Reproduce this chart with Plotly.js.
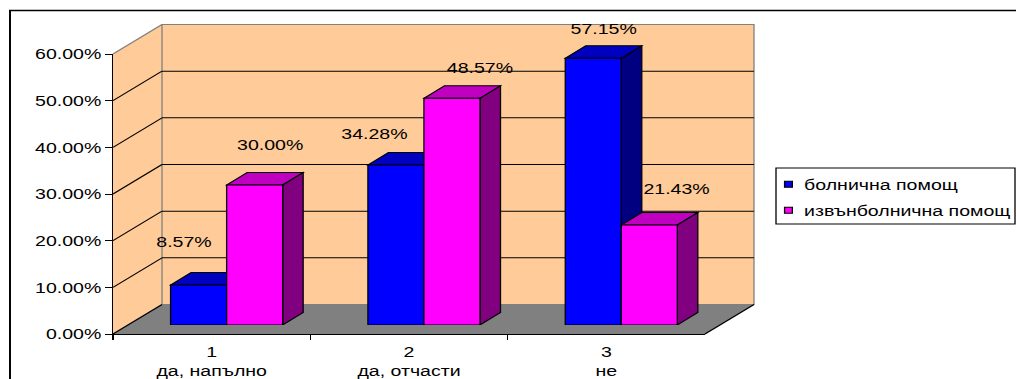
<!DOCTYPE html>
<html>
<head>
<meta charset="utf-8">
<script src="https://cdn.plot.ly/plotly-3.0.1.min.js"></script>
<style>
  html, body { margin: 0; padding: 0; background: #ffffff; overflow: hidden; }
  /* the figure is laid out on a narrower canvas and widened horizontally */
  #chart { width: 780px; height: 379px; transform: scaleX(1.3025641); transform-origin: 0 0; }
  /* legend swatches sit close to their labels */
  #chart g.legendpoints { transform: translate(8px, 0px); }
</style>
</head>
<body>
<div id="chart"></div>
<script>
// ---- data ----
const categories = ['1<br>да, напълно', '2<br>да, отчасти', '3<br>не'];
const seriesNames = ['болнична помощ', 'извънболнична помощ'];
const hospital = [0.0857, 0.3428, 0.5715];
const outpatient = [0.3000, 0.4857, 0.2143];
const yTicks = [0, 0.1, 0.2, 0.3, 0.4, 0.5, 0.6];

// ---- geometry (page pixels of the widened figure) ----
const W = 1016, H = 379, CANVAS_W = 780, SX = W / CANVAS_W;
const front = { left: 113, right: 705, base: 334, top: 54 };
const depth = { dx: 49, dy: 29.5 };          // full depth of the floor / walls
const barInset = 9 / 29.5;                   // where the bar fronts sit in depth
const barDepth = { dx: 20.5, dy: 12.5 };     // thickness of each bar
const yMax = 0.6;
const bargap = 0.432;

const series = [
  { name: seriesNames[0], values: hospital,   front: '#0000FF', top: '#0000C0', side: '#000080' },
  { name: seriesNames[1], values: outpatient, front: '#FF00FF', top: '#C000C0', side: '#800080' }
];
// label placement relative to the top of each bar's front face (px right, px up)
const labelShift = [
  [[-14, 44], [-22, 32], [11, 30]],
  [[15, 41], [28, 31], [27, 36]]
];

const catPx = (front.right - front.left) / categories.length;
const valPx = (front.base - front.top) / yMax;

function proj(c, v, d) {
  return [front.left + (c + 0.5) * catPx + depth.dx * d,
          front.base - v * valPx - depth.dy * d];
}
function toPaper(p) { return (p[0] / W).toFixed(5) + ',' + (1 - p[1] / H).toFixed(5); }
function paperPath(points, closed) { return 'M' + points.map(toPaper).join('L') + (closed ? 'Z' : ''); }

const PEACH = '#FFCC99', FLOOR = '#808080', EDGE = '#808080';
const cMin = -0.5, cMax = categories.length - 0.5;
const shapes = [];

// outer frame
shapes.push({ type: 'rect', xref: 'paper', yref: 'paper', layer: 'below',
  x0: 10 / W, x1: 1.02, y0: -0.02, y1: 1 - 10.5 / H,
  line: { color: '#000000', width: 1.5 }, fillcolor: 'rgba(0,0,0,0)' });

// walls and floor
shapes.push({ type: 'path', xref: 'paper', yref: 'paper', layer: 'below',
  path: paperPath([proj(cMin, 0, 0), proj(cMin, yMax, 0), proj(cMin, yMax, 1), proj(cMin, 0, 1)], true),
  fillcolor: PEACH, line: { width: 0 } });
shapes.push({ type: 'path', xref: 'paper', yref: 'paper', layer: 'below',
  path: paperPath([proj(cMin, 0, 1), proj(cMin, yMax, 1), proj(cMax, yMax, 1), proj(cMax, 0, 1)], true),
  fillcolor: PEACH, line: { color: EDGE, width: 1 } });
shapes.push({ type: 'path', xref: 'paper', yref: 'paper', layer: 'below',
  path: paperPath([proj(cMin, 0, 0), proj(cMax, 0, 0), proj(cMax, 0, 1), proj(cMin, 0, 1)], true),
  fillcolor: FLOOR, line: { width: 0 } });

// gridlines on the side and back walls
yTicks.forEach(function (v) {
  const isTop = v >= yMax - 1e-9;
  const col = isTop ? EDGE : '#000000';
  shapes.push({ type: 'path', xref: 'paper', yref: 'paper', layer: 'below',
    path: paperPath([proj(cMin, v, 0), proj(cMin, v, 1)], false), line: { color: col, width: 1 } });
  if (v > 0 && !isTop) {
    shapes.push({ type: 'path', xref: 'paper', yref: 'paper', layer: 'below',
      path: paperPath([proj(cMin, v, 1), proj(cMax, v, 1)], false), line: { color: '#000000', width: 1 } });
  }
});
// right edge of the floor
shapes.push({ type: 'path', xref: 'paper', yref: 'paper', layer: 'below',
  path: paperPath([proj(cMax, 0, 0), proj(cMax, 0, 1)], false), line: { color: '#000000', width: 1 } });

// top and side faces of the bars, in the bars' own axis units
const bw = (1 - bargap) / series.length;
const ddx = barDepth.dx / catPx, ddy = barDepth.dy / valPx;
categories.forEach(function (_, i) {
  series.forEach(function (s, k) {
    const v = s.values[i];
    const xc = i + (k - (series.length - 1) / 2) * bw;
    const xl = xc - bw / 2, xr = xc + bw / 2;
    shapes.push({ type: 'path', xref: 'x2', yref: 'y2', layer: 'below',
      path: `M${xl},${v}L${xr},${v}L${xr + ddx},${v + ddy}L${xl + ddx},${v + ddy}Z`,
      fillcolor: s.top, line: { color: '#000000', width: 1 } });
    shapes.push({ type: 'path', xref: 'x2', yref: 'y2', layer: 'below',
      path: `M${xr},0L${xr},${v}L${xr + ddx},${v + ddy}L${xr + ddx},${ddy}Z`,
      fillcolor: s.side, line: { color: '#000000', width: 1 } });
  });
});

// legend frame
shapes.push({ type: 'rect', xref: 'paper', yref: 'paper', layer: 'above',
  x0: 776 / W, x1: 1015 / W, y0: 1 - 224 / H, y1: 1 - 168 / H,
  line: { color: '#000000', width: 1 }, fillcolor: 'rgba(0,0,0,0)' });

// value labels
const annotations = [];
series.forEach(function (s, k) {
  s.values.forEach(function (v, i) {
    const xc = i + (k - (series.length - 1) / 2) * bw;
    annotations.push({ xref: 'x2', yref: 'y2', x: xc, y: v, showarrow: false,
      text: (v * 100).toFixed(2) + '%',
      xshift: labelShift[k][i][0] / SX, yshift: labelShift[k][i][1],
      font: { family: 'Liberation Sans, Arial, sans-serif', size: 15, color: '#000000' } });
  });
});

const traces = [];
series.forEach(function (s, k) {
  traces.push({ type: 'bar', x: categories.map(function (_, i) { return i; }), y: s.values,
    xaxis: 'x2', yaxis: 'y2', name: s.name, legendgroup: 'g' + k, showlegend: false,
    marker: { color: s.front, line: { color: '#000000', width: 1 } }, hoverinfo: 'skip' });
});
// legend entries, living on the front axes (which carry the category labels)
series.forEach(function (s, k) {
  traces.push({ type: 'scatter', mode: 'markers', x: categories, y: categories.map(function () { return null; }),
    xaxis: 'x', yaxis: 'y', name: s.name, legendgroup: 'g' + k, showlegend: true, hoverinfo: 'skip',
    marker: { symbol: 'square', size: 6, color: s.front, line: { color: '#000000', width: 1 } } });
});

const FONT = { family: 'Liberation Sans, Arial, sans-serif', size: 15, color: '#000000' };
const layout = {
  width: CANVAS_W, height: H,
  margin: { l: 0, r: 0, t: 0, b: 0, autoexpand: false },
  paper_bgcolor: '#ffffff', plot_bgcolor: 'rgba(0,0,0,0)',
  font: FONT, showlegend: true, barmode: 'group', bargap: bargap, bargroupgap: 0,
  xaxis: { domain: [front.left / W, front.right / W], anchor: 'y', type: 'category',
    categoryorder: 'array', categoryarray: categories, range: [-0.5, categories.length - 0.5],
    tickson: 'boundaries', ticks: 'outside', ticklen: 5, tickcolor: '#000000', tickwidth: 1,
    ticklabelstandoff: 4,
    showline: true, linecolor: '#000000', linewidth: 1, showgrid: false, zeroline: false,
    tickfont: FONT, fixedrange: true, automargin: false },
  yaxis: { domain: [1 - front.base / H, 1 - front.top / H], anchor: 'x', range: [0, yMax],
    tickvals: yTicks, tickformat: '.2%', ticks: 'outside', ticklen: 5, tickcolor: '#000000',
    showline: true, linecolor: '#000000', linewidth: 1, showgrid: false, zeroline: false,
    tickfont: FONT, fixedrange: true, automargin: false },
  xaxis2: { domain: [(front.left + depth.dx * barInset) / W, (front.right + depth.dx * barInset) / W],
    anchor: 'y2', range: [-0.5, categories.length - 0.5], visible: false, fixedrange: true },
  yaxis2: { domain: [1 - (front.base - depth.dy * barInset) / H, 1 - (front.top - depth.dy * barInset) / H],
    anchor: 'x2', range: [0, yMax], visible: false, fixedrange: true },
  legend: { x: 752 / W, y: 1 - 168 / H, xanchor: 'left', yanchor: 'top',
    bgcolor: 'rgba(0,0,0,0)', borderwidth: 0, font: FONT, traceorder: 'grouped',
    tracegroupgap: 3.5, itemwidth: 30 },
  shapes: shapes, annotations: annotations
};
Plotly.newPlot('chart', traces, layout, { displayModeBar: false, staticPlot: true });
</script>
</body>
</html>
